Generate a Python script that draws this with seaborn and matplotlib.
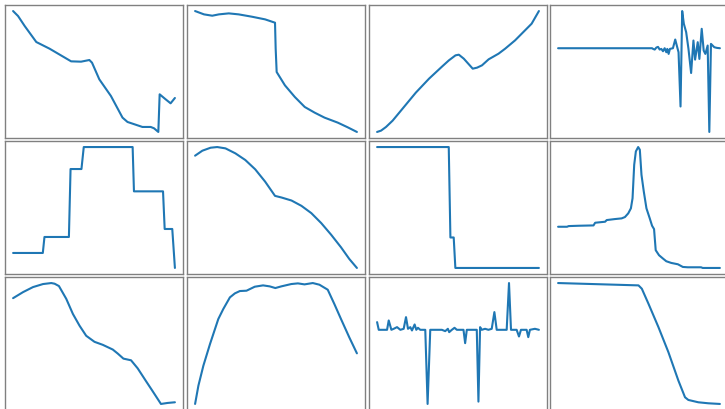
import matplotlib
matplotlib.use("Agg")
import matplotlib.pyplot as plt
import seaborn as sns
import numpy as np

sns.set_style("white")

# Panel data (x positions, y values)
p1_x = [40, 55, 75, 110, 150, 215, 245, 270, 278, 300, 335, 370, 385, 430, 455, 465, 478, 482, 500, 515, 528]
p1_y = [365, 350, 320, 272, 252, 214, 213, 218, 210, 160, 110, 45, 32, 17, 17, 13, 2, 115, 100, 88, 104]

p2_x = [28, 55, 80, 100, 130, 160, 200, 240, 270, 272, 275, 300, 330, 360, 390, 420, 460, 490, 518]
p2_y = [363, 353, 349, 353, 356, 353, 346, 338, 328, 250, 180, 140, 105, 75, 58, 43, 28, 14, 0]

p3_x = [33, 45, 60, 80, 110, 150, 190, 230, 250, 270, 280, 295, 322, 335, 350, 370, 400, 420, 450, 480, 500, 522]
p3_y = [0, 4, 15, 34, 70, 118, 160, 197, 215, 230, 232, 220, 190, 193, 200, 218, 235, 250, 275, 305, 325, 363]

p4_x = [38, 100, 200, 322, 325, 330, 335, 340, 345, 350, 355, 360, 365, 368, 372, 376, 385, 392, 398, 402,
        408, 413, 418, 425, 432, 440, 447, 452, 460, 465, 472, 478, 483, 490, 495, 500, 510, 518, 527]
p4_zy = [148, 148, 148, 148, 150, 152, 146, 144, 152, 150, 157, 148, 160, 150, 165, 150, 148, 122, 145, 160,
         322, 37, 75, 100, 150, 222, 125, 182, 130, 180, 90, 155, 165, 140, 398, 135, 145, 147, 148]
p4_y = [400 - v for v in p4_zy]

p5_x = [38, 128, 133, 207, 212, 245, 252, 400, 404, 492, 497, 520, 528]
p5_y = [50, 50, 98, 98, 302, 302, 368, 368, 235, 235, 122, 122, 5]

p6_x = [28, 50, 75, 95, 120, 150, 180, 210, 240, 270, 290, 320, 350, 380, 410, 440, 470, 495, 518]
p6_zy = [57, 42, 33, 31, 35, 50, 70, 98, 135, 178, 183, 192, 208, 230, 260, 295, 333, 368, 395]
p6_y = [400 - v for v in p6_zy]

p7_x = [33, 250, 255, 265, 270, 523]
p7_y = [368, 368, 98, 98, 7, 7]

p8_x = [38, 65, 70, 100, 145, 150, 180, 185, 210, 230, 240, 250, 258, 263, 268, 273, 280, 285, 290, 297,
        305, 315, 322, 328, 333, 343, 355, 365, 380, 400, 415, 430, 470, 475, 527]
p8_zy = [265, 265, 263, 262, 261, 253, 250, 245, 242, 240, 236, 225, 210, 180, 80, 40, 27, 35, 110, 160,
         210, 240, 262, 272, 335, 350, 360, 368, 373, 377, 385, 386, 386, 388, 388]
p8_y = [400 - v for v in p8_zy]

p9_x = [40, 70, 100, 130, 155, 165, 178, 200, 220, 240, 260, 285, 310, 340, 355, 372, 395, 415, 440, 460, 485, 505, 527]
p9_zy = [83, 65, 50, 41, 38, 40, 47, 85, 130, 165, 195, 213, 222, 236, 248, 263, 268, 292, 330, 360, 398, 395, 393]
p9_y = [400 - v for v in p9_zy]

p10_x = [30, 40, 55, 75, 100, 115, 135, 150, 165, 185, 210, 235, 255, 272, 290, 320, 340, 360, 385, 405, 430, 450, 470, 495, 518]
p10_zy = [400, 345, 285, 220, 145, 115, 80, 68, 61, 60, 48, 44, 47, 52, 47, 40, 38, 41, 37, 42, 57, 100, 145, 200, 248]
p10_y = [400 - v for v in p10_zy]

p11_x = [35, 40, 65, 70, 78, 85, 95, 105, 115, 122, 128, 135, 140, 148, 153, 158, 165, 180, 187, 195,
         230, 240, 248, 252, 260, 268, 275, 295, 300, 305, 335, 340, 345, 350, 360, 370, 380, 388, 395,
         425, 432, 438, 455, 462, 468, 485, 490, 495, 510, 522]
p11_zy = [145, 168, 168, 140, 168, 165, 160, 168, 165, 130, 165, 160, 170, 152, 168, 162, 168, 168, 390, 168,
          168, 172, 165, 175, 168, 162, 168, 168, 208, 168, 168, 383, 160, 168, 165, 168, 165, 115, 168,
          168, 28, 168, 168, 188, 168, 168, 190, 168, 165, 168]
p11_y = [400 - v for v in p11_zy]

p12_x = [38, 280, 290, 310, 340, 370, 400, 420, 430, 460, 490, 525]
p12_zy = [38, 45, 55, 100, 170, 245, 330, 380, 388, 395, 398, 400]
p12_y = [400 - v for v in p12_zy]

panels = [
    (p1_x, p1_y), (p2_x, p2_y), (p3_x, p3_y), (p4_x, p4_y),
    (p5_x, p5_y), (p6_x, p6_y), (p7_x, p7_y), (p8_x, p8_y),
    (p9_x, p9_y), (p10_x, p10_y), (p11_x, p11_y), (p12_x, p12_y),
]

W, H = 725, 410
fig = plt.figure(figsize=(W / 100, H / 100), dpi=100)

col_left = [5, 187, 369, 550]
row_top = [6, 142, 278]
aw, ah = 178, 133

for i, (xs, ys) in enumerate(panels):
    r, c = divmod(i, 4)
    left = col_left[c] / W
    bottom = 1 - (row_top[r] + ah) / H
    ax = fig.add_axes([left, bottom, aw / W, ah / H])
    sns.lineplot(x=xs, y=ys, ax=ax, color="#1f77b4", linewidth=1.5,
                 sort=False, estimator=None)
    ax.set_xticks([])
    ax.set_yticks([])
    ax.set_xlabel("")
    ax.set_ylabel("")
    ax.margins(0.05)
    for s in ax.spines.values():
        s.set_color("0.5")
        s.set_linewidth(1.0)
        s.set_visible(True)

fig.savefig("out.png", dpi=100)
